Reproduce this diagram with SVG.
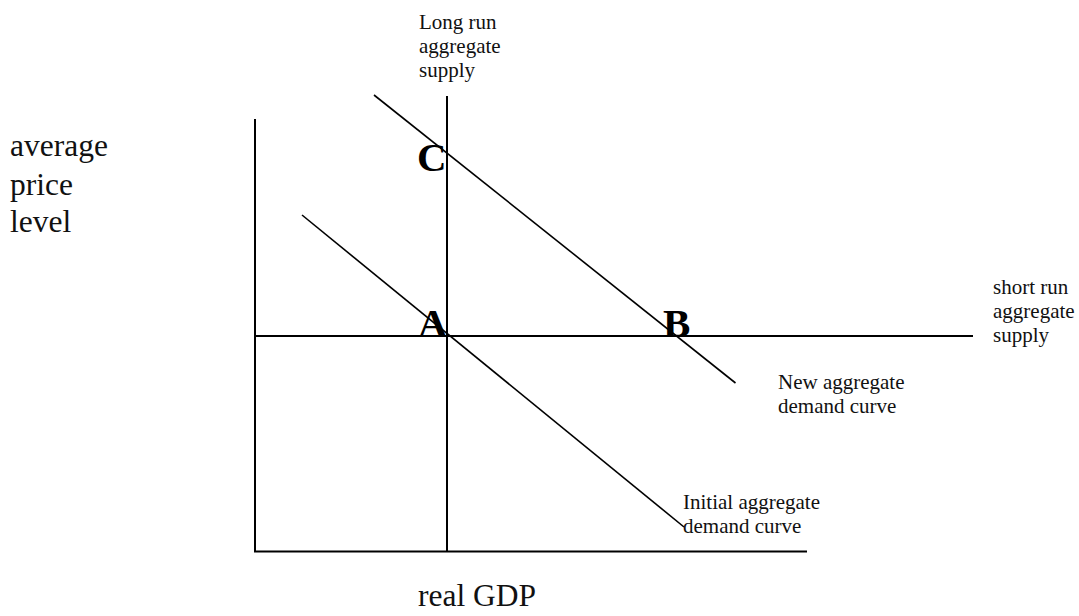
<svg xmlns="http://www.w3.org/2000/svg" width="1079" height="616" viewBox="0 0 1079 616">
<style>
.ln{stroke:#000;stroke-width:2;fill:none}
.dl{stroke:#000;stroke-width:1.6;fill:none}
.lbl{font-family:"Liberation Serif","Times New Roman",serif;font-size:21px;fill:#111}
.big{font-family:"Liberation Serif","Times New Roman",serif;font-size:31.5px;fill:#111}
.pt{font-family:"Liberation Serif","Times New Roman",serif;font-size:41px;font-weight:bold;fill:#000}
</style>
<rect width="1079" height="616" fill="#fff"/>
<g id="connectors">
<line class="ln" x1="255" y1="119" x2="255" y2="552"/>
<line class="ln" x1="254" y1="551.5" x2="807" y2="551.5"/>
<line class="ln" x1="447" y1="96" x2="447" y2="552"/>
<line class="ln" x1="255" y1="336" x2="973" y2="336"/>
<line class="dl" x1="374" y1="95" x2="735.5" y2="383"/>
<line class="dl" x1="302" y1="215" x2="684" y2="527"/>
</g>
<g id="yaxis-label">
<text class="big" x="10" y="156">average</text>
<text class="big" x="10" y="195">price</text>
<text class="big" x="10" y="232">level</text>
</g>
<g id="xaxis-label">
<text class="big" x="418" y="606">real GDP</text>
</g>
<g id="lras-label">
<text class="lbl" x="419" y="29">Long run</text>
<text class="lbl" x="419" y="53">aggregate</text>
<text class="lbl" x="419" y="77">supply</text>
</g>
<g id="sras-label">
<text class="lbl" x="993" y="294">short run</text>
<text class="lbl" x="993" y="318">aggregate</text>
<text class="lbl" x="993" y="342">supply</text>
</g>
<g id="new-ad-label">
<text class="lbl" x="778" y="389">New aggregate</text>
<text class="lbl" x="778" y="413">demand curve</text>
</g>
<g id="initial-ad-label">
<text class="lbl" x="683" y="509">Initial aggregate</text>
<text class="lbl" x="683" y="533">demand curve</text>
</g>
<g id="point-A"><text class="pt" x="418" y="337">A</text></g>
<g id="point-B"><text class="pt" x="663" y="337">B</text></g>
<g id="point-C"><text class="pt" x="417" y="171">C</text></g>
</svg>
